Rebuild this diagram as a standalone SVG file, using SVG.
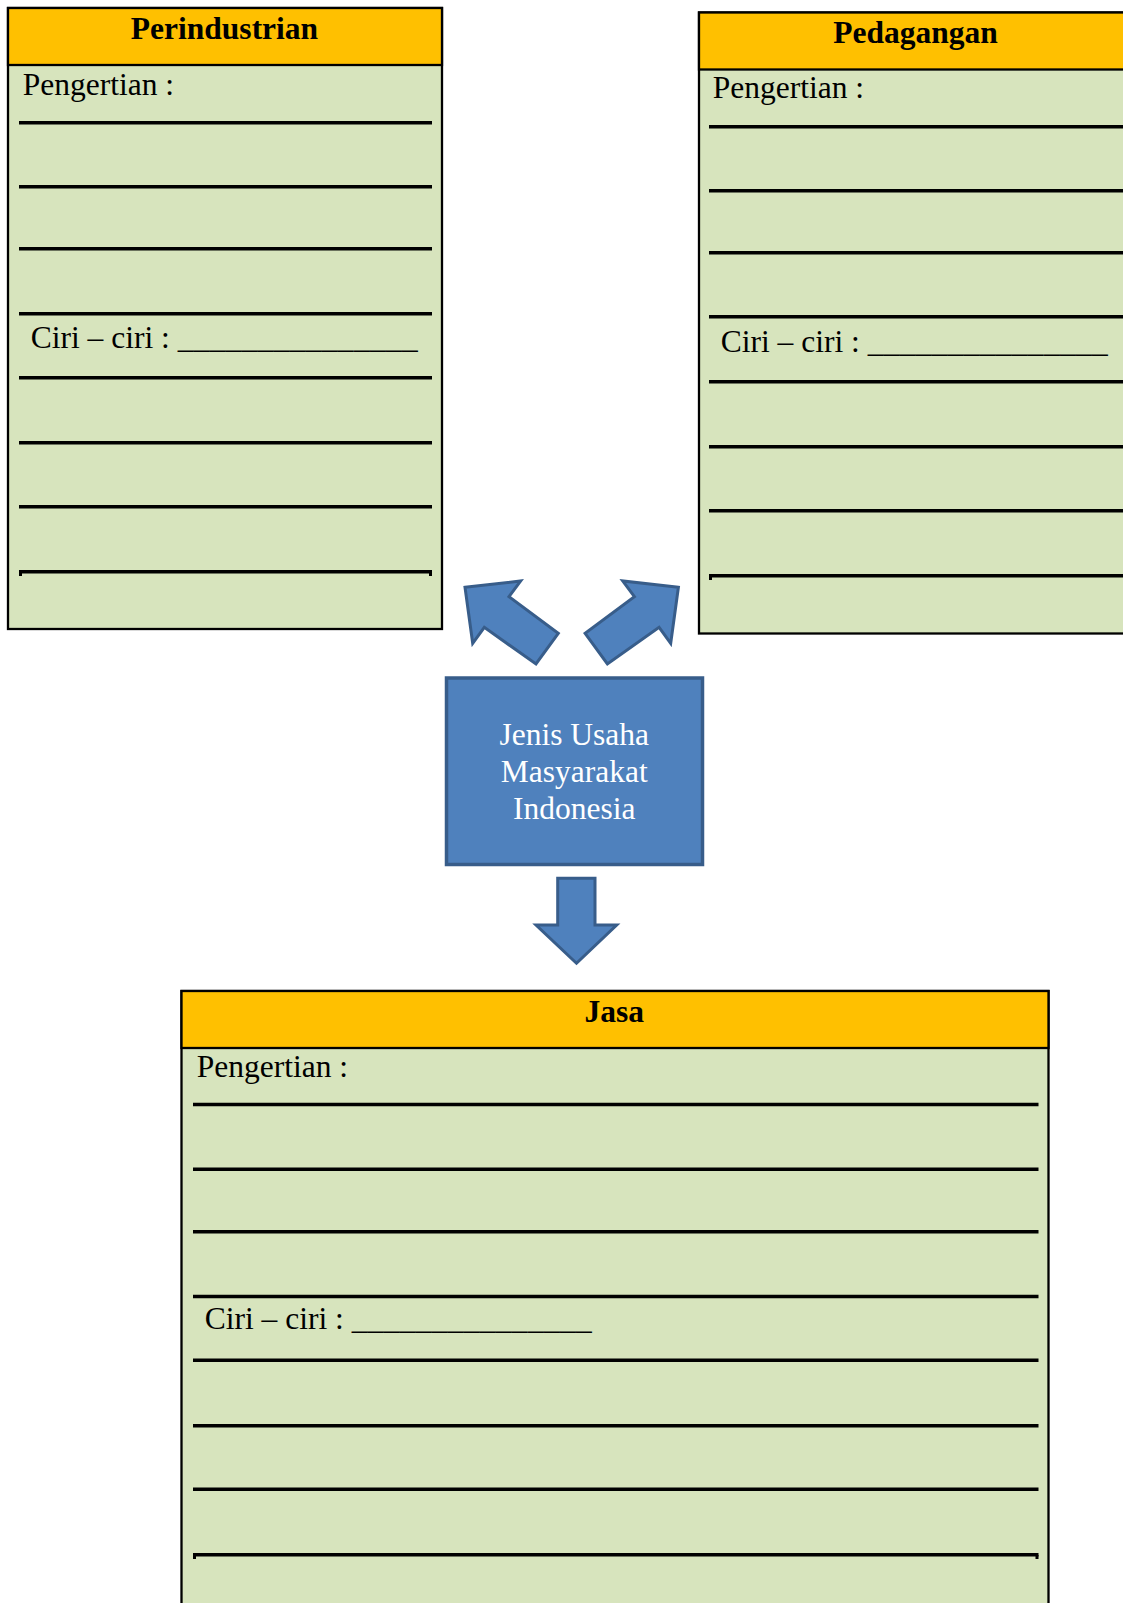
<svg xmlns="http://www.w3.org/2000/svg" width="1123" height="1603" viewBox="0 0 1123 1603">
<style>
.body{fill:#D7E4BD;stroke:#000;stroke-width:2.3}
.head{fill:#FFC000;stroke:#000;stroke-width:2.3}
.ttl{font-family:"Liberation Serif","Times New Roman",serif;font-weight:bold;font-size:31.5px;fill:#000;text-anchor:middle}
.txt{font-family:"Liberation Serif","Times New Roman",serif;font-size:31.5px;fill:#000}
.ln{stroke:#000;stroke-width:3.5}
.arr{fill:#4F81BD;stroke:#385D8A;stroke-width:3;stroke-linejoin:miter}
.ctr{font-family:"Liberation Serif","Times New Roman",serif;font-size:31.5px;fill:#fff;text-anchor:middle}
</style>
<rect width="1123" height="1603" fill="#fff"/>

<g id="perindustrian">
<rect class="body" x="8" y="8" width="434" height="621"/>
<rect class="head" x="8" y="8" width="434" height="57"/>
<text class="ttl" x="224.5" y="38.5">Perindustrian</text>
<text class="txt" x="22.7" y="95">Pengertian :</text>
<text class="txt" x="30.7" y="348.3">Ciri – ciri : <tspan textLength="240" lengthAdjust="spacing">_______________</tspan></text>
<g class="ln">
<line x1="19" y1="122.7" x2="432" y2="122.7"/>
<line x1="19" y1="186.7" x2="432" y2="186.7"/>
<line x1="19" y1="248.7" x2="432" y2="248.7"/>
<line x1="19" y1="313.7" x2="432" y2="313.7"/>
<line x1="19" y1="377.7" x2="432" y2="377.7"/>
<line x1="19" y1="442.7" x2="432" y2="442.7"/>
<line x1="19" y1="506.7" x2="432" y2="506.7"/>
<line x1="19" y1="571.7" x2="432" y2="571.7"/>
</g>
<rect x="19" y="572" width="3" height="4" fill="#000"/>
<rect x="429" y="572" width="3" height="4" fill="#000"/>
</g>

<g id="pedagangan">
<rect class="body" x="699" y="12.5" width="440" height="621"/>
<rect class="head" x="699" y="12.5" width="440" height="57"/>
<text class="ttl" x="915.5" y="42.7">Pedagangan</text>
<text class="txt" x="712.7" y="98.3">Pengertian :</text>
<text class="txt" x="720.7" y="352">Ciri – ciri : <tspan textLength="240" lengthAdjust="spacing">_______________</tspan></text>
<g class="ln">
<line x1="709" y1="126.7" x2="1123" y2="126.7"/>
<line x1="709" y1="190.7" x2="1123" y2="190.7"/>
<line x1="709" y1="252.7" x2="1123" y2="252.7"/>
<line x1="709" y1="316.7" x2="1123" y2="316.7"/>
<line x1="709" y1="381.7" x2="1123" y2="381.7"/>
<line x1="709" y1="446.7" x2="1123" y2="446.7"/>
<line x1="709" y1="510.7" x2="1123" y2="510.7"/>
<line x1="709" y1="575.7" x2="1123" y2="575.7"/>
</g>
<rect x="709" y="576" width="3" height="4" fill="#000"/>
</g>

<g id="jasa">
<rect class="body" x="181.5" y="991" width="867" height="700"/>
<rect class="head" x="181.5" y="991" width="867" height="57"/>
<text class="ttl" x="614.3" y="1021.7">Jasa</text>
<text class="txt" x="196.7" y="1077.3">Pengertian :</text>
<text class="txt" x="204.7" y="1329.3">Ciri – ciri : <tspan textLength="240" lengthAdjust="spacing">_______________</tspan></text>
<g class="ln">
<line x1="193" y1="1104.5" x2="1038.5" y2="1104.5"/>
<line x1="193" y1="1169.3" x2="1038.5" y2="1169.3"/>
<line x1="193" y1="1231.7" x2="1038.5" y2="1231.7"/>
<line x1="193" y1="1296.5" x2="1038.5" y2="1296.5"/>
<line x1="193" y1="1360.3" x2="1038.5" y2="1360.3"/>
<line x1="193" y1="1425.8" x2="1038.5" y2="1425.8"/>
<line x1="193" y1="1489.2" x2="1038.5" y2="1489.2"/>
<line x1="193" y1="1554.7" x2="1038.5" y2="1554.7"/>
</g>
<rect x="193" y="1555" width="3" height="4" fill="#000"/>
<rect x="1035.5" y="1555" width="3" height="4" fill="#000"/>
</g>

<g id="center">
<rect x="446.5" y="678" width="256" height="186.5" fill="#4F81BD" stroke="#385D8A" stroke-width="3.5"/>
<text class="ctr" x="574.2" y="745">Jenis Usaha</text>
<text class="ctr" x="574.2" y="782.3">Masyarakat</text>
<text class="ctr" x="574.2" y="819.3">Indonesia</text>
</g>

<g id="connectors">
<polygon class="arr" points="465,587.3 520.7,581 509,596.7 558.3,633.3 536,664 484.3,627.3 472.7,643.3"/>
<polygon class="arr" points="678.4,587.3 622.7,581 634.4,596.7 585.1,633.3 607.4,664 659.1,627.3 670.7,643.3"/>
<polygon class="arr" points="557.7,878.3 595,878.3 595,925 616.7,925 576.5,963.3 536,925 557.7,925"/>
</g>
</svg>
